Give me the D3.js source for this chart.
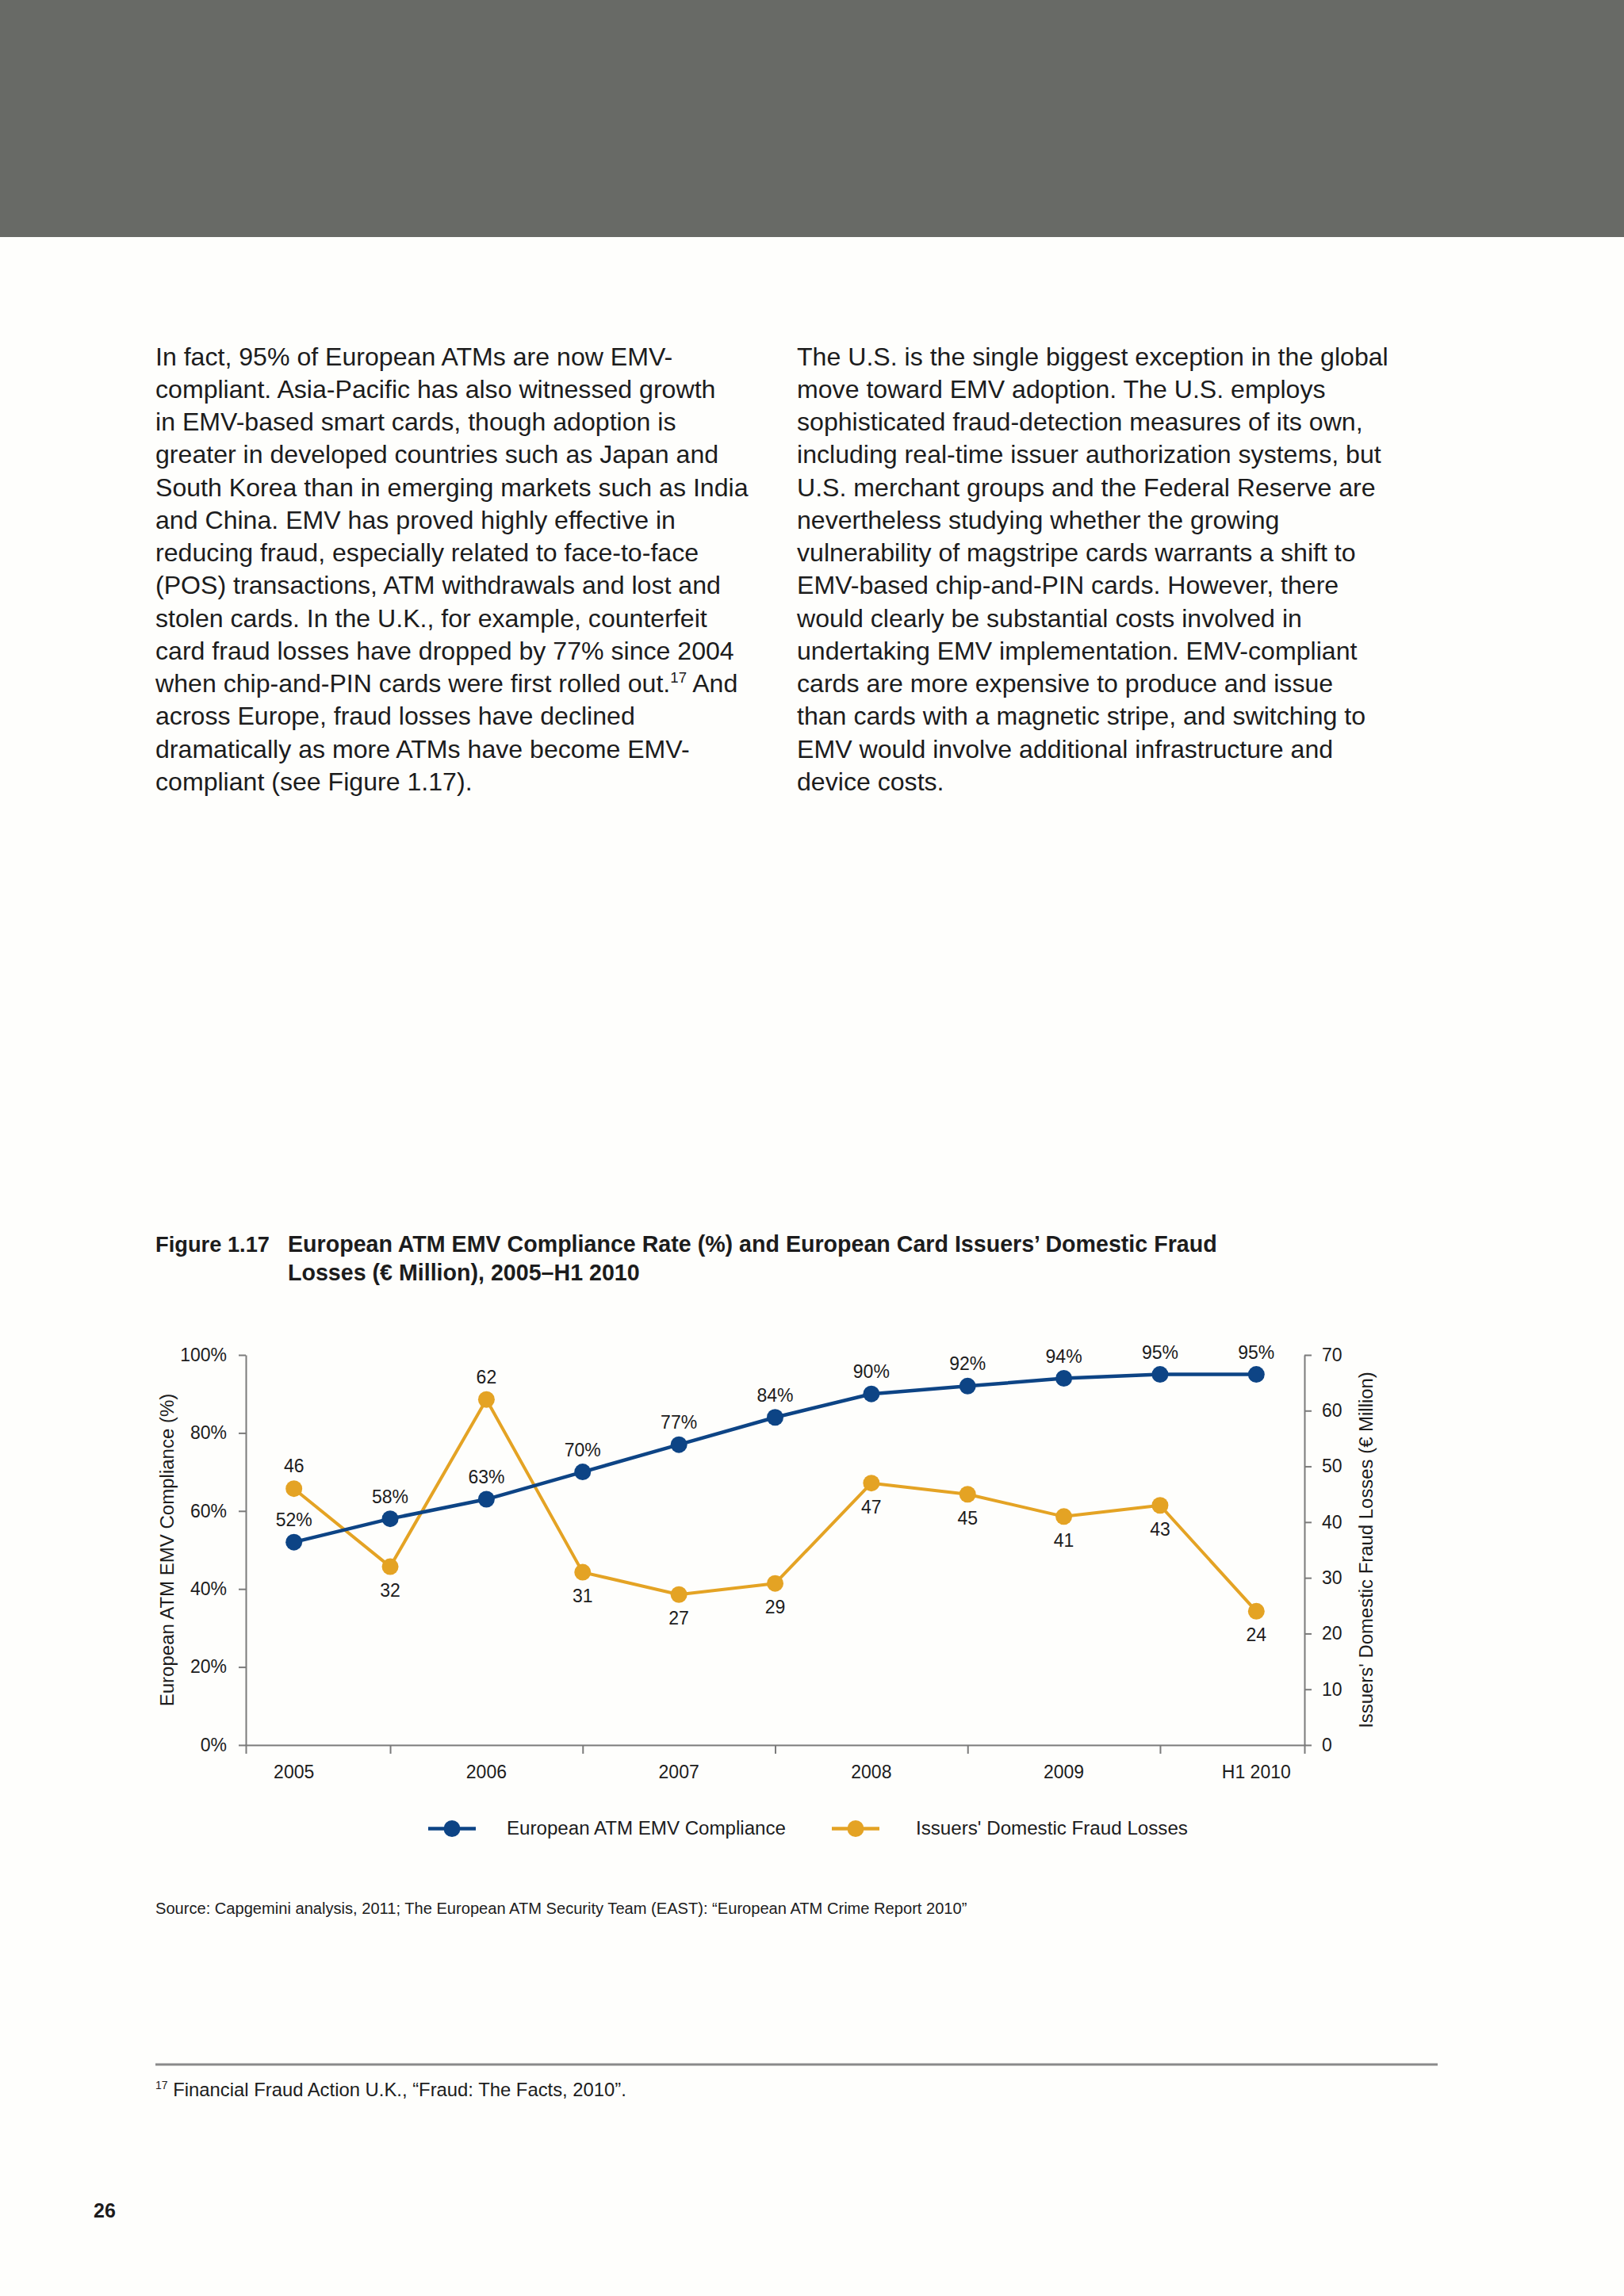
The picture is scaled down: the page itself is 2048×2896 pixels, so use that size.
<!DOCTYPE html>
<html>
<head>
<meta charset="utf-8">
<script src="https://cdn.jsdelivr.net/npm/d3@7"></script>
<style>
  html, body { margin: 0; padding: 0; background: #fefefc; }
  svg { display: block; }
</style>
</head>
<body>
<script>
// ---------------- DATA ----------------
const periods = ["2005", "2005 H2", "2006", "2006 H2", "2007", "2007 H2", "2008", "2008 H2", "2009", "2009 H2", "H1 2010"];
const tickLabelIdx = [0, 2, 4, 6, 8, 10];
const tickLabels = ["2005", "2006", "2007", "2008", "2009", "H1 2010"];
const compliance = [52, 58, 63, 70, 77, 84, 90, 92, 94, 95, 95];          // %
const fraudLosses = [46, 32, 62, 31, 27, 29, 47, 45, 41, 43, 24];          // € Million
const fraudLabelAbove = [true, false, true, false, false, false, false, false, false, false, false];
const leftTicks = [0, 20, 40, 60, 80, 100];
const rightTicks = [0, 10, 20, 30, 40, 50, 60, 70];
const seriesNames = ["European ATM EMV Compliance", "Issuers' Domestic Fraud Losses"];

const leftText = [
  "In fact, 95% of European ATMs are now EMV-",
  "compliant. Asia-Pacific has also witnessed growth",
  "in EMV-based smart cards, though adoption is",
  "greater in developed countries such as Japan and",
  "South Korea than in emerging markets such as India",
  "and China. EMV has proved highly effective in",
  "reducing fraud, especially related to face-to-face",
  "(POS) transactions, ATM withdrawals and lost and",
  "stolen cards. In the U.K., for example, counterfeit",
  "card fraud losses have dropped by 77% since 2004",
  "when chip-and-PIN cards were first rolled out.^17^ And",
  "across Europe, fraud losses have declined",
  "dramatically as more ATMs have become EMV-",
  "compliant (see Figure 1.17)."
];
const rightText = [
  "The U.S. is the single biggest exception in the global",
  "move toward EMV adoption. The U.S. employs",
  "sophisticated fraud-detection measures of its own,",
  "including real-time issuer authorization systems, but",
  "U.S. merchant groups and the Federal Reserve are",
  "nevertheless studying whether the growing",
  "vulnerability of magstripe cards warrants a shift to",
  "EMV-based chip-and-PIN cards. However, there",
  "would clearly be substantial costs involved in",
  "undertaking EMV implementation. EMV-compliant",
  "cards are more expensive to produce and issue",
  "than cards with a magnetic stripe, and switching to",
  "EMV would involve additional infrastructure and",
  "device costs."
];
const figureNo = "Figure 1.17";
const titleLines = [
  "European ATM EMV Compliance Rate (%) and European Card Issuers\u2019 Domestic Fraud",
  "Losses (\u20ac Million), 2005\u2013H1 2010"
];
const leftAxisTitle = "European ATM EMV Compliance (%)";
const rightAxisTitle = "Issuers' Domestic Fraud Losses (\u20ac Million)";
const sourceText = "Source: Capgemini analysis, 2011; The European ATM Security Team (EAST): \u201cEuropean ATM Crime Report 2010\u201d";
const footnoteText = " Financial Fraud Action U.K., \u201cFraud: The Facts, 2010\u201d.";
const pageNumber = "26";

// ---------------- LAYOUT ----------------
const W = 2048, H = 2896;
const FONT = "'Liberation Sans', Arial, Helvetica, sans-serif";
const BLUE = "#0d4485", ORANGE = "#e4a324", AXIS = "#7b7b7b", INK = "#1c1c1c";

const svg = d3.select("body").append("svg")
  .attr("width", W).attr("height", H)
  .attr("font-family", FONT);

svg.append("rect").attr("width", W).attr("height", H).attr("fill", "#fefefc");
svg.append("rect").attr("width", W).attr("height", 299).attr("fill", "#686a66");

function fitWidth(sel, target) {
  const w = sel.node().getComputedTextLength();
  const fs = parseFloat(sel.attr("font-size"));
  sel.attr("font-size", fs * target / w);
  return fs * target / w;
}

// body text
function addLine(g, str, x, y, fs) {
  const t = g.append("text").attr("x", x).attr("y", y).attr("font-size", fs).attr("fill", INK);
  const parts = str.split("^");
  parts.forEach((p, i) => {
    if (i % 2 === 1) {
      t.append("tspan").attr("font-size", fs * 0.58).attr("dy", -fs * 0.38).text(p);
    } else {
      const ts = t.append("tspan").text(p);
      if (i > 0) ts.attr("dy", fs * 0.38);
    }
  });
  return t;
}
const bodyG = svg.append("g");
// determine body font size from first lines' widths
const probeL = bodyG.append("text").attr("font-size", 30).text(leftText[0]);
const fsL = fitWidth(probeL, 650); probeL.remove();
const probeR = bodyG.append("text").attr("font-size", 30).text(rightText[0]);
const fsR = fitWidth(probeR, 749); probeR.remove();
const bodyFs = (fsL + fsR) / 2;
leftText.forEach((s, i) => addLine(bodyG, s, 196, 460.5 + i * 41.25, bodyFs));
rightText.forEach((s, i) => addLine(bodyG, s, 1005, 460.5 + i * 41.25, bodyFs));

// title
const fig = svg.append("text").attr("x", 196).attr("y", 1579).attr("font-size", 26)
  .attr("font-weight", "bold").attr("fill", INK).text(figureNo);
fitWidth(fig, 144);
const t1 = svg.append("text").attr("x", 363).attr("y", 1579).attr("font-size", 26)
  .attr("font-weight", "bold").attr("fill", INK).text(titleLines[0]);
const titleFs = fitWidth(t1, 1172);
const t2 = svg.append("text").attr("x", 363).attr("y", 1615).attr("font-size", titleFs)
  .attr("font-weight", "bold").attr("fill", INK).text(titleLines[1]);

// ---------------- CHART ----------------
const x = d3.scalePoint().domain(periods).range([310, 1645]).padding(0.5);
const yL = d3.scaleLinear().domain([0, 100]).range([2201, 1709]);
const yR = d3.scaleLinear().domain([0, 70]).range([2201, 1709]);
const LABEL_FS = 23;

const chart = svg.append("g");

// bottom axis (ticks between years, outer ticks extend axes)
const bottomAxis = d3.axisBottom(x)
  .tickValues(periods.filter((d, i) => i % 2 === 1))
  .tickFormat("")
  .tickSizeInner(11)
  .tickSizeOuter(11);
const bg = chart.append("g").attr("transform", "translate(0,2201)").call(bottomAxis);

// year labels
chart.append("g").selectAll("text").data(tickLabelIdx).join("text")
  .attr("x", i => x(periods[i])).attr("y", 2243)
  .attr("text-anchor", "middle").attr("font-size", LABEL_FS).attr("fill", INK)
  .text((d, k) => tickLabels[k]);

// left axis
const lg = chart.append("g").attr("transform", "translate(310,0)")
  .call(d3.axisLeft(yL).tickValues(leftTicks).tickFormat(d => d + "%").tickSizeInner(9).tickSizeOuter(0).tickPadding(15));
// right axis
const rg = chart.append("g").attr("transform", "translate(1645,0)")
  .call(d3.axisRight(yR).tickValues(rightTicks).tickSizeInner(9).tickSizeOuter(0).tickPadding(13));

[bg, lg, rg].forEach(g => {
  g.selectAll("path, line").attr("stroke", AXIS).attr("stroke-width", 2);
  g.selectAll("text").attr("font-size", LABEL_FS).attr("fill", INK).attr("font-family", FONT);
});

// axis titles
const lt = chart.append("text")
  .attr("transform", "translate(210,1955) rotate(-90)")
  .attr("text-anchor", "middle").attr("dominant-baseline", "central")
  .attr("font-size", 22).attr("fill", INK).text(leftAxisTitle);
fitWidth(lt, 395);
const rt = chart.append("text")
  .attr("transform", "translate(1722,1955) rotate(-90)")
  .attr("text-anchor", "middle").attr("dominant-baseline", "central")
  .attr("font-size", 22).attr("fill", INK).text(rightAxisTitle);
fitWidth(rt, 450);

// series lines
const lineL = d3.line().x((d, i) => x(periods[i])).y(d => yL(d));
const lineR = d3.line().x((d, i) => x(periods[i])).y(d => yR(d));

chart.append("path").datum(fraudLosses).attr("d", lineR)
  .attr("fill", "none").attr("stroke", ORANGE).attr("stroke-width", 4).attr("stroke-linejoin", "round");
chart.append("path").datum(compliance).attr("d", lineL)
  .attr("fill", "none").attr("stroke", BLUE).attr("stroke-width", 4.5).attr("stroke-linejoin", "round");

chart.append("g").selectAll("circle").data(fraudLosses).join("circle")
  .attr("cx", (d, i) => x(periods[i])).attr("cy", d => yR(d)).attr("r", 10.5).attr("fill", ORANGE);
chart.append("g").selectAll("circle").data(compliance).join("circle")
  .attr("cx", (d, i) => x(periods[i])).attr("cy", d => yL(d)).attr("r", 10.5).attr("fill", BLUE);

// data labels
chart.append("g").selectAll("text").data(compliance).join("text")
  .attr("x", (d, i) => x(periods[i])).attr("y", d => yL(d) - 20)
  .attr("text-anchor", "middle").attr("font-size", LABEL_FS).attr("fill", INK)
  .text(d => d + "%");
chart.append("g").selectAll("text").data(fraudLosses).join("text")
  .attr("x", (d, i) => x(periods[i]))
  .attr("y", (d, i) => fraudLabelAbove[i] ? yR(d) - 20.5 : yR(d) + 38)
  .attr("text-anchor", "middle").attr("font-size", LABEL_FS).attr("fill", INK)
  .text(d => d);

// legend
const legend = svg.append("g");
const legendItems = [
  { name: seriesNames[0], color: BLUE, x0: 540, x1: 600, tx: 639, tw: 352 },
  { name: seriesNames[1], color: ORANGE, x0: 1049, x1: 1109, tx: 1155, tw: 343 }
];
legendItems.forEach(it => {
  legend.append("line").attr("x1", it.x0).attr("x2", it.x1).attr("y1", 2306.5).attr("y2", 2306.5)
    .attr("stroke", it.color).attr("stroke-width", 4.5);
  legend.append("circle").attr("cx", (it.x0 + it.x1) / 2).attr("cy", 2306.5).attr("r", 10.5).attr("fill", it.color);
  const t = legend.append("text").attr("x", it.tx).attr("y", 2314).attr("font-size", 23).attr("fill", INK).text(it.name);
  fitWidth(t, it.tw);
});

// source
const src = svg.append("text").attr("x", 196).attr("y", 2414).attr("font-size", 19).attr("fill", INK).text(sourceText);
fitWidth(src, 1024);

// footnote rule and footnote
svg.append("line").attr("x1", 196).attr("x2", 1813).attr("y1", 2604).attr("y2", 2604)
  .attr("stroke", "#8a8a8a").attr("stroke-width", 3);
const fn = svg.append("text").attr("x", 196).attr("y", 2644).attr("font-size", 23).attr("fill", INK);
fn.append("tspan").attr("font-size", 14).attr("dy", -9).text("17");
fn.append("tspan").attr("dy", 9).text(footnoteText);
fitWidth(fn, 595);

// page number
svg.append("text").attr("x", 118).attr("y", 2797).attr("font-size", 25).attr("font-weight", "bold")
  .attr("fill", INK).text(pageNumber);
</script>
</body>
</html>
